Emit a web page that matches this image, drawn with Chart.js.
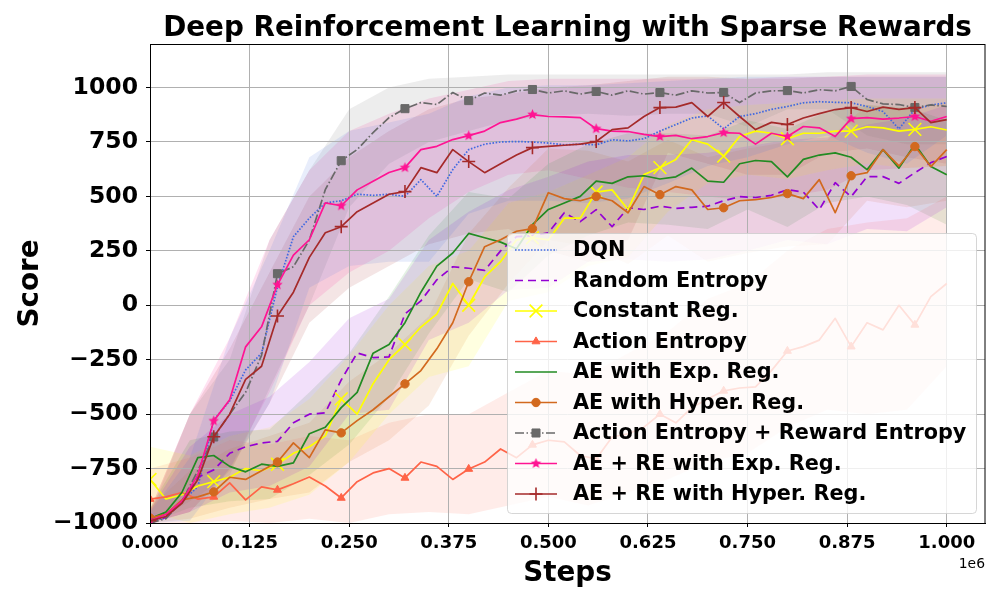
<!DOCTYPE html>
<html><head><meta charset="utf-8">
<script src="https://cdn.jsdelivr.net/npm/chart.js@4.4.1/dist/chart.umd.min.js"></script>
<style>html,body{margin:0;padding:0;background:#fff}canvas{display:block}</style>
</head><body>
<canvas id="c" width="1000" height="600"></canvas>
<script>
// ---------- DATA ----------
const stepsK = [0,20,40,60,80,100,120,140,160,180,200,220,240,260,280,300,320,340,360,380,400,420,440,460,480,500,520,540,560,580,600,620,640,660,680,700,720,740,760,780,800,820,840,860,880,900,920,940,960,980,1000];
const bandStepsK = [0,50,100,150,200,250,300,350,400,450,500,550,600,650,700,750,800,850,900,950,1000];
const xTicksK = [0,125,250,375,500,625,750,875,1000];
const yTicks = [-1000,-750,-500,-250,0,250,500,750,1000];
const seriesNames = ["DQN","Random Entropy","Constant Reg.","Action Entropy","AE with Exp. Reg.","AE with Hyper. Reg.","Action Entropy + Reward Entropy","AE + RE with Exp. Reg.","AE + RE with Hyper. Reg."];

const dqn = [-990,-977,-900,-834,-526,-440,-297,-220,85,315,400,470,480,510,505,510,500,577,500,623,715,740,750,752,750,745,737,740,737,760,755,765,800,830,860,870,810,867,880,900,913,930,935,932,930,913,890,810,900,920,930];
const randomEnt = [-990,-975,-900,-790,-756,-680,-650,-632,-625,-540,-500,-494,-343,-219,-240,-237,-40,20,117,177,170,160,250,315,320,333,425,384,439,361,448,440,455,445,450,455,480,499,495,505,531,520,439,563,499,591,591,560,609,655,683];
const constReg = [-800,-890,-870,-830,-810,-790,-750,-760,-730,-680,-650,-600,-430,-500,-360,-250,-180,-100,-40,100,0,130,200,300,310,300,400,400,520,530,440,600,632,670,760,740,685,775,800,790,765,790,790,800,800,820,815,800,808,820,805];
const actionEnt = [-890,-880,-860,-890,-880,-816,-894,-834,-848,-820,-789,-830,-885,-810,-770,-750,-793,-720,-740,-800,-752,-720,-660,-700,-641,-620,-627,-690,-706,-605,-590,-560,-500,-540,-470,-430,-393,-380,-375,-300,-210,-190,-160,-60,-190,-80,-113,0,-90,40,100];
const aeExp = [-980,-950,-860,-700,-690,-740,-765,-730,-740,-724,-590,-560,-470,-400,-220,-180,-80,60,180,240,330,310,290,260,370,440,470,500,570,560,590,595,580,590,630,570,565,650,665,660,590,670,690,700,680,623,715,630,740,637,600];
const aeHyper = [-977,-960,-894,-880,-857,-790,-800,-760,-720,-632,-700,-572,-586,-530,-480,-420,-361,-300,-200,-80,108,269,301,340,352,517,490,480,500,480,425,545,508,545,530,440,448,480,485,495,513,490,577,425,595,609,715,640,729,637,715];
const aeRe = [-1000,-980,-900,-760,-605,-500,-400,-230,145,177,300,531,664,715,793,862,903,931,922,977,940,975,965,985,991,975,985,970,982,965,985,970,977,965,985,975,977,931,975,985,986,975,990,985,1005,945,925,922,908,920,913];
const aeReExp = [-990,-960,-900,-780,-531,-434,-191,-99,94,230,301,470,457,530,570,610,632,715,730,761,779,800,839,855,876,867,865,862,811,800,798,785,775,780,765,775,793,790,740,790,775,821,815,775,857,862,855,860,867,845,867];
const aeReHyper = [-990,-970,-910,-800,-604,-500,-340,-280,-49,60,220,333,361,430,470,510,522,632,609,715,660,609,650,690,724,730,735,740,752,807,815,867,908,910,931,867,931,867,807,840,830,860,880,899,908,890,910,900,908,839,853];

const dqnHi = [-950,-700,-150,250,680,800,840,880,960,1000,1010,1010,1020,1030,1040,1050,1050,1050,1050,1050,1050];
const dqnLo = [-1000,-990,-750,-450,80,180,200,200,420,480,480,470,490,560,640,680,740,780,700,650,780];
const randomHi = [-940,-650,-500,-420,-260,-60,30,300,430,530,590,660,690,690,700,730,760,770,830,860,920];
const randomLo = [-1000,-950,-860,-830,-740,-500,-480,-160,-80,70,80,200,210,200,210,250,300,280,350,340,450];
const constHi = [-650,-690,-600,-560,-430,-230,0,180,250,470,520,600,680,830,900,920,930,940,950,950,950];
const constLo = [-950,-1000,-960,-930,-870,-720,-500,-330,-280,20,60,180,220,430,560,600,580,620,650,630,640];
const actionHi = [-750,-700,-620,-640,-600,-620,-540,-500,-500,-400,-300,-320,-220,-120,30,100,250,350,380,400,500];
const actionLo = [-1000,-1000,-990,-1000,-980,-1000,-960,-950,-960,-920,-880,-920,-860,-800,-720,-680,-560,-480,-500,-480,-280];
const aeExpHi = [-930,-620,-580,-570,-400,-220,40,320,520,490,650,740,790,790,780,850,810,890,920,910,850];
const aeExpLo = [-1000,-930,-900,-890,-780,-640,-420,-130,120,60,230,320,380,370,350,440,360,470,500,460,370];
const aeHyperHi = [-930,-760,-660,-600,-540,-350,-220,-50,330,540,720,710,660,760,680,720,750,760,920,900,930];
const aeHyperLo = [-1000,-980,-930,-890,-860,-720,-620,-460,-140,100,300,270,190,320,200,240,270,280,480,450,480];
const aeReHi = [-960,-500,-250,300,620,900,1000,1040,1050,1060,1060,1060,1060,1060,1060,1060,1060,1070,1070,1070,1070];
const aeReLo = [-1000,-900,-780,-380,0,450,650,750,800,850,870,880,870,880,880,820,900,900,780,740,740];
const aeReExpHi = [-940,-500,-150,300,620,800,880,950,990,1030,1040,1040,1040,1040,1040,1040,1050,1050,1060,1060,1060];
const aeReExpLo = [-1000,-950,-750,-400,0,150,250,400,520,600,620,580,540,520,500,480,500,530,620,630,640];
const aeReHyperHi = [-940,-500,-200,150,500,680,800,900,950,970,1000,1010,1030,1050,1050,1040,1040,1050,1050,1050,1050];
const aeReHyperLo = [-1000,-950,-760,-450,-80,80,180,280,330,350,250,200,300,700,650,600,600,700,720,680,650];

// ---------- STYLES ----------
const FONT = "'DejaVu Sans', sans-serif";
Chart.defaults.font.family = FONT;

function starCanvas(color, r) {
  const s = Math.ceil(r * 2) + 2;
  const c = document.createElement('canvas');
  c.width = s; c.height = s;
  const g = c.getContext('2d');
  g.fillStyle = color; g.beginPath();
  for (let i = 0; i < 10; i++) {
    const a = -Math.PI / 2 + i * Math.PI / 5;
    const rr = i % 2 ? r * 0.45 : r;
    g.lineTo(s / 2 + rr * Math.cos(a), s / 2 + rr * Math.sin(a));
  }
  g.closePath(); g.fill();
  return c;
}

const styles = [
  {color:'#4169E1', rgb:'65,105,225', dash:[1.6,1.6]},
  {color:'#9400D3', rgb:'148,0,211', dash:[8,5]},
  {color:'#FFFF00', rgb:'255,255,0', marker:'crossRot', radius:9, pbw:1.6},
  {color:'#FF6347', rgb:'255,99,71', marker:'triangle', radius:4.6, pbw:1},
  {color:'#228B22', rgb:'34,139,34'},
  {color:'#D2691E', rgb:'210,105,30', marker:'circle', radius:4.2, pbw:1},
  {color:'#696969', rgb:'105,105,105', dash:[9,2.5,1.5,2.5], marker:'rect', radius:5.7, pbw:1},
  {color:'#FF1493', rgb:'255,20,147', marker:'star', radius:5.5, pbw:0},
  {color:'#A52A2A', rgb:'165,42,42', marker:'cross', radius:6.5, pbw:1.6}
];
styles.forEach(s => { if (s.marker === 'star') s.pointStyle = starCanvas(s.color, s.radius); else s.pointStyle = s.marker || 'circle'; });

const means = [dqn, randomEnt, constReg, actionEnt, aeExp, aeHyper, aeRe, aeReExp, aeReHyper];
const his = [dqnHi, randomHi, constHi, actionHi, aeExpHi, aeHyperHi, aeReHi, aeReExpHi, aeReHyperHi];
const los = [dqnLo, randomLo, constLo, actionLo, aeExpLo, aeHyperLo, aeReLo, aeReExpLo, aeReHyperLo];

const datasets = [];
means.forEach((m, i) => {
  datasets.push({label:'_lo'+i, data: bandStepsK.map((k,j)=>({x:k*1000, y:los[i][j]})), borderWidth:0, borderColor:'rgba(0,0,0,0)', pointRadius:0, fill:false, order:100});
  datasets.push({label:'_hi'+i, data: bandStepsK.map((k,j)=>({x:k*1000, y:his[i][j]})), borderWidth:0, borderColor:'rgba(0,0,0,0)', pointRadius:0, fill:'-1', backgroundColor:'rgba('+styles[i].rgb+',0.12)', order:100});
});
means.forEach((m, i) => {
  const st = styles[i];
  datasets.push({
    label: seriesNames[i],
    data: stepsK.map((k,j)=>({x:k*1000, y:m[j]})),
    borderColor: st.color, borderWidth: 1.7, borderDash: st.dash || [], fill:false, tension:0,
    borderCapStyle:'butt', borderJoinStyle:'round',
    pointStyle: st.pointStyle,
    pointRadius: ctx => (st.marker && ctx.raw && ctx.raw.x % 80000 === 0) ? st.radius : 0,
    pointBackgroundColor: st.color, pointBorderColor: st.color, pointBorderWidth: st.pbw || 0,
    order: 9 - i
  });
});

function alignPx(p) { return Math.round(p - 0.5) + 0.5; }

const overlay = {
  id: 'overlay',
  beforeDatasetsDraw(chart) {
    const {ctx, chartArea:a, scales:{x, y}} = chart;
    ctx.save();
    ctx.beginPath(); ctx.rect(a.left, a.top, a.right - a.left, a.bottom - a.top); ctx.clip();
    ctx.strokeStyle = '#b0b0b0'; ctx.lineWidth = 1; ctx.beginPath();
    xTicksK.forEach(k => { const p = alignPx(x.getPixelForValue(k*1000)); ctx.moveTo(p, a.top); ctx.lineTo(p, a.bottom); });
    yTicks.forEach(v => { const p = alignPx(y.getPixelForValue(v)); ctx.moveTo(a.left, p); ctx.lineTo(a.right, p); });
    ctx.stroke(); ctx.restore();
  },
  afterDatasetsDraw(chart) {
    const {ctx, chartArea:a} = chart;
    ctx.save();
    ctx.strokeStyle = '#000'; ctx.lineWidth = 1;
    ctx.strokeRect(a.left + 0.5, a.top + 0.5, a.right - a.left - 0.5, a.bottom - a.top);
    ctx.restore();
  },
  afterDraw(chart) {
    const {ctx, chartArea:a} = chart;
    ctx.save();
    ctx.fillStyle = '#000';
    // title
    ctx.font = "bold 27.8px " + FONT; ctx.textAlign = 'center'; ctx.textBaseline = 'alphabetic';
    ctx.fillText('Deep Reinforcement Learning with Sparse Rewards', (a.left + a.right) / 2, 36);
    // x label
    ctx.fillText('Steps', (a.left + a.right) / 2, 581);
    // y label
    ctx.save(); ctx.translate(38, (a.top + a.bottom) / 2); ctx.rotate(-Math.PI / 2);
    ctx.fillText('Score', 0, 0); ctx.restore();
    // offset text
    ctx.font = "13.9px " + FONT; ctx.textAlign = 'right';
    ctx.fillText('1e6', a.right, 568);
    // legend
    const lx = 507, ly = 233, lw = 469, lh = 280;
    ctx.beginPath();
    if (ctx.roundRect) ctx.roundRect(lx + 0.5, ly + 0.5, lw, lh, 4); else ctx.rect(lx + 0.5, ly + 0.5, lw, lh);
    ctx.fillStyle = 'rgba(255,255,255,0.8)'; ctx.fill();
    ctx.strokeStyle = 'rgba(204,204,204,0.8)'; ctx.lineWidth = 1; ctx.stroke();
    seriesNames.forEach((name, i) => {
      const st = styles[i];
      const yy = 250 + i * 30.5;
      ctx.save();
      ctx.strokeStyle = st.color; ctx.lineWidth = 1.7; ctx.lineCap = 'butt';
      ctx.setLineDash(st.dash || []);
      ctx.beginPath(); ctx.moveTo(515, yy); ctx.lineTo(557, yy); ctx.stroke();
      ctx.setLineDash([]);
      if (st.marker) {
        ctx.fillStyle = st.color; ctx.strokeStyle = st.color; ctx.lineWidth = st.pbw || 1;
        Chart.helpers.drawPoint(ctx, {pointStyle: st.pointStyle, radius: st.radius, rotation: 0, borderWidth: st.pbw || 0}, 536, yy);
      }
      ctx.restore();
      ctx.fillStyle = '#000'; ctx.font = "bold 20.8px " + FONT; ctx.textAlign = 'left'; ctx.textBaseline = 'middle';
      ctx.fillText(name, 573, yy + 1);
    });
    ctx.restore();
  }
};

new Chart(document.getElementById('c'), {
  type: 'line',
  data: { datasets },
  options: {
    responsive: false, animation: false, events: [],
    layout: { padding: { top: 44, right: 15, left: 0, bottom: 0 } },
    plugins: { legend: { display: false }, tooltip: { enabled: false }, title: { display: false }, filler: { drawTime: 'beforeDatasetsDraw', propagate: false } },
    scales: {
      x: {
        type: 'linear', min: 0, max: 1048000,
        afterFit: s => { s.height = 77; },
        afterBuildTicks: s => { s.ticks = xTicksK.map(k => ({value: k * 1000})); },
        ticks: { font: { size: 18, weight: 'bold' }, color: '#000', padding: 6, maxRotation: 0, autoSkip: false,
          callback: v => (v / 1e6).toFixed(3) },
        grid: { drawOnChartArea: false, drawTicks: true, tickLength: 4, tickColor: '#000', tickWidth: 1 },
        border: { display: true, color: '#000', width: 1 }
      },
      y: {
        type: 'linear', min: -1000, max: 1200,
        afterFit: s => { s.width = 150; },
        afterBuildTicks: s => { s.ticks = yTicks.map(v => ({value: v})); },
        ticks: { font: { size: 23.5, weight: 'bold' }, color: '#000', padding: 8, autoSkip: false,
          callback: v => v < 0 ? '\u2212' + Math.abs(v) : String(v) },
        grid: { drawOnChartArea: false, drawTicks: true, tickLength: 4, tickColor: '#000', tickWidth: 1 },
        border: { display: true, color: '#000', width: 1 }
      }
    }
  },
  plugins: [overlay]
});
</script>
</body></html>
